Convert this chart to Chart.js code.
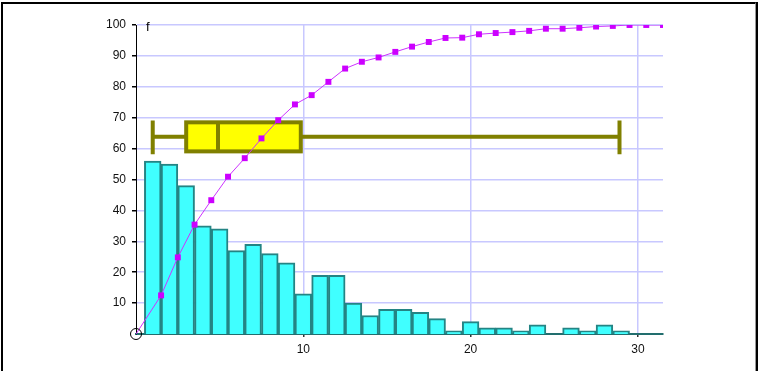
<!DOCTYPE html>
<html>
<head>
<meta charset="utf-8">
<script src="https://cdn.jsdelivr.net/npm/chart.js@4"></script>
<style>
  body { margin: 0; background: #fff; }
  #wrap { position: relative; width: 759px; height: 371px; }
  #grafico { position: absolute; left: 0; top: 0; }
  #moldura {
    position: absolute; left: 1px; top: 2px; width: 752px; height: 369px;
    border-top: 2px solid #000; border-left: 2px solid #000; border-right: 1px solid #999;
    pointer-events: none;
  }
  #moldura2 { position: absolute; left: 756px; top: 2px; width: 2px; height: 369px; background: #000; }
</style>
</head>
<body>
<div id="wrap">
  <canvas id="grafico" width="759" height="371"></canvas>
  <div id="moldura"></div>
  <div id="moldura2"></div>
</div>
<script>
// --- dados ---
const classes = [1, 2, 3, 4, 5, 6, 7, 8, 9, 10, 11, 12, 13, 14, 15, 16, 17, 18, 19, 20, 21, 22, 23, 24, 25, 26, 27, 28, 29, 30, 31];
const frequencias = [56, 55, 48, 35, 34, 27, 29, 26, 23, 13, 19, 19, 10, 6, 8, 8, 7, 5, 1, 4, 2, 2, 1, 3, 0, 2, 1, 3, 1, 0, 0];

const acumX = [0, 1.5, 2.5, 3.5, 4.5, 5.5, 6.5, 7.5, 8.5, 9.5, 10.5, 11.5, 12.5, 13.5, 14.5, 15.5, 16.5, 17.5, 18.5, 19.5, 20.5, 21.5, 22.5, 23.5, 24.5, 25.5, 26.5, 27.5, 28.5, 29.5, 30.5, 31.5];
const acumPct = [0, 12.5, 24.8, 35.4, 43.3, 50.9, 56.9, 63.3, 69.2, 74.3, 77.3, 81.6, 85.9, 88.1, 89.5, 91.3, 93.0, 94.5, 95.8, 95.9, 97.0, 97.4, 97.7, 98.1, 98.8, 98.8, 99.1, 99.5, 99.7, 100, 100, 100];

// min, Q1, mediana, Q3, max
const caixa = [1, 3, 4.9, 9.85, 28.9];

const xTicks = [10, 20, 30];
const yTicks = [10, 20, 30, 40, 50, 60, 70, 80, 90, 100];

const fonte = { family: "'Liberation Sans', Arial, sans-serif", size: 12 };

// caixa de bigodes desenhada com as escalas do gráfico
const boxPlugin = {
  id: 'caixaBigodes',
  beforeDatasetsDraw(chart, args, opts) {
    const { ctx, scales: { x, y } } = chart;
    const [mn, q1, med, q3, mx] = caixa.map(v => x.getPixelForValue(v));
    const yc = y.getPixelForValue(opts.nivel);
    const yt = y.getPixelForValue(opts.nivel + opts.meia);
    const yb = y.getPixelForValue(opts.nivel - opts.meia);
    const yct = y.getPixelForValue(opts.nivel + opts.meia + 0.6);
    const ycb = y.getPixelForValue(opts.nivel - opts.meia - 0.9);
    ctx.save();
    ctx.strokeStyle = '#808000';
    ctx.lineWidth = 4;
    ctx.beginPath();
    ctx.moveTo(mn, yc); ctx.lineTo(q1, yc);
    ctx.moveTo(q3, yc); ctx.lineTo(mx, yc);
    ctx.moveTo(mn, yct); ctx.lineTo(mn, ycb);
    ctx.moveTo(mx, yct); ctx.lineTo(mx, ycb);
    ctx.stroke();
    ctx.fillStyle = '#ffff00';
    ctx.fillRect(q1, yt, q3 - q1, yb - yt);
    ctx.strokeRect(q1, yt, q3 - q1, yb - yt);
    ctx.beginPath();
    ctx.moveTo(med, yt); ctx.lineTo(med, yb);
    ctx.stroke();
    ctx.restore();
  },
  afterDraw(chart) {
    const { ctx, chartArea } = chart;
    ctx.save();
    ctx.fillStyle = '#000';
    ctx.font = `13px ${fonte.family}`;
    ctx.textBaseline = 'middle';
    ctx.fillText('f', chartArea.left + 10, chartArea.top + 2);
    ctx.restore();
  }
};

const ctx = document.getElementById("grafico").getContext("2d");

new Chart(ctx, {
  type: 'bar',
  data: {
    datasets: [
      {
        type: 'line',
        data: acumX.map((v, i) => ({ x: v, y: acumPct[i] })),
        borderColor: '#cc33ff',
        borderWidth: 1,
        backgroundColor: '#cc00ff',
        pointBackgroundColor: '#cc00ff',
        pointBorderWidth: 0,
        pointStyle: 'rect',
        pointRadius: acumX.map((v, i) => i === 0 ? 0 : 4.2),
        tension: 0,
        order: 1
      },
      {
        type: 'scatter',
        data: [{ x: 0, y: 0 }],
        pointRadius: 5.5,
        pointBackgroundColor: 'rgba(0,0,0,0)',
        pointBorderColor: '#000',
        pointBorderWidth: 1,
        clip: false,
        order: 0
      },
      {
        data: classes.map((c, i) => ({ x: c, y: frequencias[i] })),
        backgroundColor: '#40ffff',
        borderColor: '#248484',
        borderWidth: 2,
        barPercentage: 1,
        categoryPercentage: 1,
        order: 3
      }
    ]
  },
  options: {
    responsive: false,
    animation: false,
    events: [],
    layout: { padding: { left: 0, top: 25, right: 96, bottom: 0 } },
    plugins: {
      legend: { display: false },
      tooltip: { enabled: false },
      caixaBigodes: { nivel: 63.8, meia: 4.7 }
    },
    scales: {
      x: {
        type: 'linear',
        offset: false,
        min: 0,
        max: 31.5,
        afterBuildTicks: s => { s.ticks = xTicks.map(v => ({ value: v })); },
        afterFit: s => { s.height = 37; },
        ticks: { color: '#111', font: fonte, padding: 5 },
        grid: { offset: false, color: '#c8c8ff', lineWidth: 1.5, tickColor: '#333', tickLength: 3 },
        border: { display: true, color: '#226e6e', width: 2 }
      },
      y: {
        min: 0,
        max: 100,
        afterBuildTicks: s => { s.ticks = yTicks.map(v => ({ value: v })); },
        afterFit: s => { s.width = 136; },
        ticks: { color: '#111', font: fonte, padding: 6 },
        grid: { color: '#c8c8ff', lineWidth: 1.5, tickColor: '#000', tickLength: 4 },
        border: { display: true, color: '#000', width: 1 }
      }
    }
  },
  plugins: [boxPlugin]
});
</script>
</body>
</html>
